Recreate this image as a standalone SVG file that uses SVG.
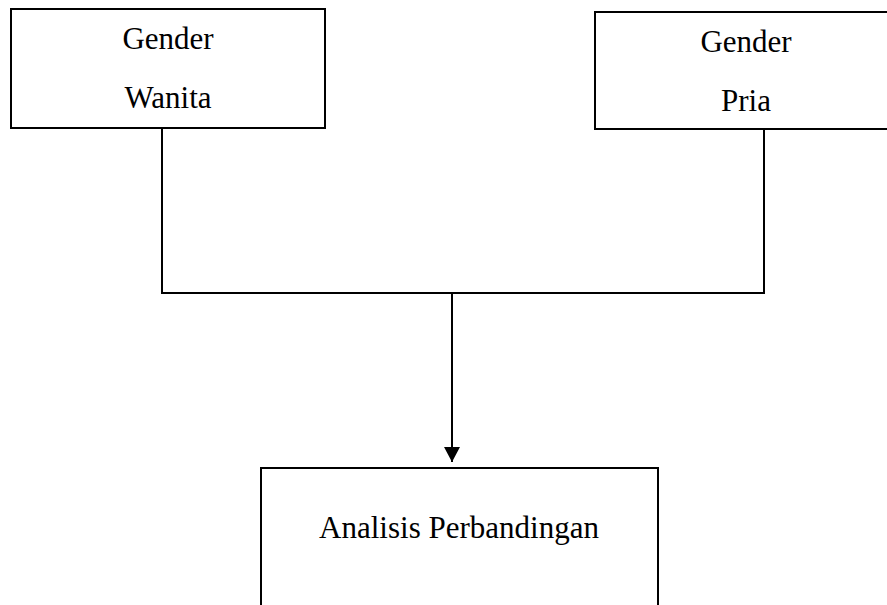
<svg xmlns="http://www.w3.org/2000/svg" width="887" height="605" viewBox="0 0 887 605">
<style>
.box{fill:#fff;stroke:#000;stroke-width:2}
.t{font-family:"Liberation Serif","Times New Roman",serif;font-size:31px;fill:#000;text-anchor:middle}
.c{fill:none;stroke:#000;stroke-width:2}
</style>
<defs>
<marker id="ah" markerUnits="userSpaceOnUse" markerWidth="16" markerHeight="17" refX="15" refY="8" orient="auto">
<path d="M0,0 L15,8 L0,16 Z" fill="#000"/>
</marker>
</defs>
<rect width="887" height="605" fill="#fff"/>
<g id="wanita">
<rect class="box" x="11" y="9" width="314" height="119"/>
<text class="t" x="168" y="49">Gender</text>
<text class="t" x="168" y="108">Wanita</text>
</g>
<g id="pria">
<rect class="box" x="595" y="12" width="305" height="117"/>
<text class="t" x="746" y="52">Gender</text>
<text class="t" x="746" y="111">Pria</text>
</g>
<g id="analisis">
<rect class="box" x="261" y="468" width="397" height="150"/>
<text class="t" x="459" y="538">Analisis Perbandingan</text>
</g>
<g id="connectors">
<polyline class="c" points="162,128 162,293 764,293 764,129"/>
<line class="c" x1="452" y1="293" x2="452" y2="462" marker-end="url(#ah)"/>
</g>
</svg>
